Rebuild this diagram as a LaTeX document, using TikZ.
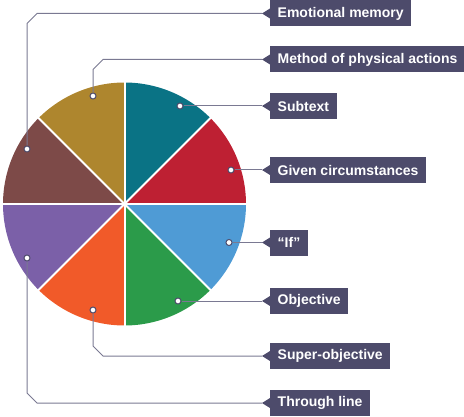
\documentclass[tikz,border=0pt]{standalone}
\usepackage{fontspec}
\setmainfont{Liberation Sans}
\definecolor{boxc}{HTML}{4D4B6B}
\definecolor{linec}{HTML}{7A7992}
\definecolor{cteal}{HTML}{0A7385}
\definecolor{cred}{HTML}{BE2033}
\definecolor{cblue}{HTML}{4F9BD5}
\definecolor{cgreen}{HTML}{2B9B4A}
\definecolor{corange}{HTML}{F15A29}
\definecolor{cpurple}{HTML}{7B60A8}
\definecolor{cbrown}{HTML}{7D4A48}
\definecolor{cgold}{HTML}{AE862E}
\tikzset{
  lbl/.style={fill=boxc,text=white,anchor=west,minimum height=26pt,inner xsep=7.5pt,inner ysep=0pt,font=\bfseries\fontsize{14}{16}\selectfont},
  dotm/.style={circle,fill=white,draw=boxc,line width=1pt,inner sep=0pt,minimum size=6pt},
  conn/.style={draw=linec,line width=1pt},
}
\newcommand{\mklabel}[3]{%
  \node[lbl] (#1) at (270,#2) {#3};
  \fill[boxc] (#1.west) ++(0,5) -- ++(-8,-5) coordinate (#1tip) -- ++(8,-5) -- cycle;
}
\begin{document}
\begin{tikzpicture}[x=1pt,y=1pt]
\useasboundingbox (0,0) rectangle (464,416);
\coordinate (C) at (124.5,212);
\def\R{121.5}
\fill[cteal]   (C) -- ++(45:\R) arc (45:90:\R) -- cycle;
\fill[cred]    (C) -- ++(0:\R) arc (0:45:\R) -- cycle;
\fill[cblue]   (C) -- ++(-45:\R) arc (-45:0:\R) -- cycle;
\fill[cgreen]  (C) -- ++(-90:\R) arc (-90:-45:\R) -- cycle;
\fill[corange] (C) -- ++(-135:\R) arc (-135:-90:\R) -- cycle;
\fill[cpurple] (C) -- ++(180:\R) arc (180:225:\R) -- cycle;
\fill[cbrown]  (C) -- ++(135:\R) arc (135:180:\R) -- cycle;
\fill[cgold]   (C) -- ++(90:\R) arc (90:135:\R) -- cycle;
\foreach \a in {0,45,...,315} \draw[white,line width=2pt] (C) -- ++(\a:\R+1);
% labels
\mklabel{em}{402.5}{Emotional memory}
\mklabel{mpa}{356.5}{Method of physical actions}
\mklabel{sub}{310}{Subtext}
\mklabel{gc}{246}{Given circumstances}
\mklabel{if}{173.5}{“If”}
\mklabel{obj}{115}{Objective}
\mklabel{so}{60}{Super-objective}
\mklabel{tl}{13}{Through line}
% dots
\node[dotm] (dteal) at (180,310) {};
\node[dotm] (dred) at (231,246) {};
\node[dotm] (dgold) at (93,320) {};
\node[dotm] (dbrown) at (27,267) {};
\node[dotm] (dblue) at (229,173.5) {};
\node[dotm] (dgreen) at (178,115) {};
\node[dotm] (dorange) at (93,106) {};
\node[dotm] (dpurple) at (27,158) {};
\coordinate (bgold1) at (93,346.5);
\coordinate (bgold2) at (103,356.5);
\coordinate (bbrown1) at (27,392.5);
\coordinate (bbrown2) at (37,402.5);
\coordinate (borange1) at (93,70);
\coordinate (borange2) at (103,60);
\coordinate (bpurple1) at (27,23);
\coordinate (bpurple2) at (37,13);
% connectors
\draw[conn] (dteal) -- (subtip);
\draw[conn] (dred) -- (gctip);
\draw[conn] (dblue) -- (iftip);
\draw[conn] (dgreen) -- (objtip);
\draw[conn] (dgold) -- (bgold1) -- (bgold2) -- (mpatip);
\draw[conn] (dbrown) -- (bbrown1) -- (bbrown2) -- (emtip);
\draw[conn] (dorange) -- (borange1) -- (borange2) -- (sotip);
\draw[conn] (dpurple) -- (bpurple1) -- (bpurple2) -- (tltip);
\end{tikzpicture}
\end{document}
